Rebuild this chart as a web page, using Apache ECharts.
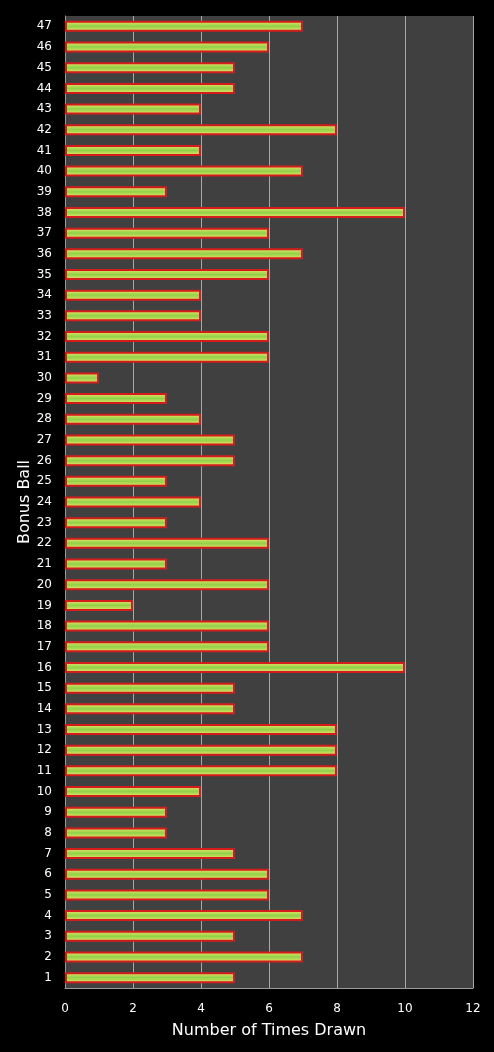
<!DOCTYPE html>
<html>
<head>
<meta charset="utf-8">
<script src="https://cdn.jsdelivr.net/npm/echarts@6/dist/echarts.min.js"></script>
<style>
  html, body { margin: 0; padding: 0; background: #000; }
  #chart { width: 494px; height: 1052px; }
</style>
</head>
<body>
<div id="chart"></div>
<script>
// bonus ball numbers, bottom to top
const balls = [];
for (let i = 1; i <= 47; i++) balls.push(String(i));

const timesDrawn = [
  5, 7, 5, 7, 6, 6, 5, 3, 3, 4,
  8, 8, 8, 5, 5, 10, 6, 6, 2, 6,
  3, 6, 3, 4, 3, 5, 5, 4, 3, 1,
  6, 6, 4, 4, 6, 7, 6, 10, 3, 7,
  4, 8, 4, 5, 5, 6, 7
];

const xTicks = [0, 2, 4, 6, 8, 10, 12];

const chart = echarts.init(document.getElementById('chart'));

const barFill = new echarts.graphic.LinearGradient(0, 0, 0, 1, [
  { offset: 0, color: '#f6e466' },
  { offset: 0.5, color: '#8fd24a' },
  { offset: 1, color: '#f6e466' }
]);

chart.setOption({
  backgroundColor: '#000000',
  textStyle: { fontFamily: 'DejaVu Sans' },
  grid: {
    left: 65,
    right: 21,
    top: 16,
    bottom: 64,
    show: true,
    backgroundColor: '#404040',
    borderWidth: 0
  },
  xAxis: {
    type: 'value',
    min: xTicks[0],
    max: xTicks[xTicks.length - 1],
    interval: 2,
    name: 'Number of Times Drawn',
    nameLocation: 'middle',
    nameGap: 35,
    nameTextStyle: { color: '#ffffff', fontSize: 16, fontFamily: 'DejaVu Sans' },
    axisLine: { show: true, lineStyle: { color: '#9a9a9a', width: 1 } },
    axisTick: { show: false },
    axisLabel: { color: '#ffffff', fontSize: 12, margin: 15 },
    splitLine: { show: true, lineStyle: { color: '#a8a8a8', width: 1 } }
  },
  yAxis: {
    type: 'category',
    data: balls,
    name: 'Bonus Ball',
    nameLocation: 'middle',
    nameGap: 32,
    nameRotate: 90,
    nameMoveOverlap: false,
    nameTextStyle: { color: '#ffffff', fontSize: 16, fontFamily: 'DejaVu Sans' },
    axisLine: { show: true, lineStyle: { color: '#9a9a9a', width: 1 } },
    axisTick: { show: false },
    axisLabel: { color: '#ffffff', fontSize: 12, margin: 13, interval: 0 },
    splitLine: { show: false }
  },
  series: [{
    type: 'bar',
    data: timesDrawn,
    barWidth: 11,
    itemStyle: {
      color: barFill,
      borderColor: '#d41c1c',
      borderWidth: 2
    },
    animation: false
  }]
});
</script>
</body>
</html>
